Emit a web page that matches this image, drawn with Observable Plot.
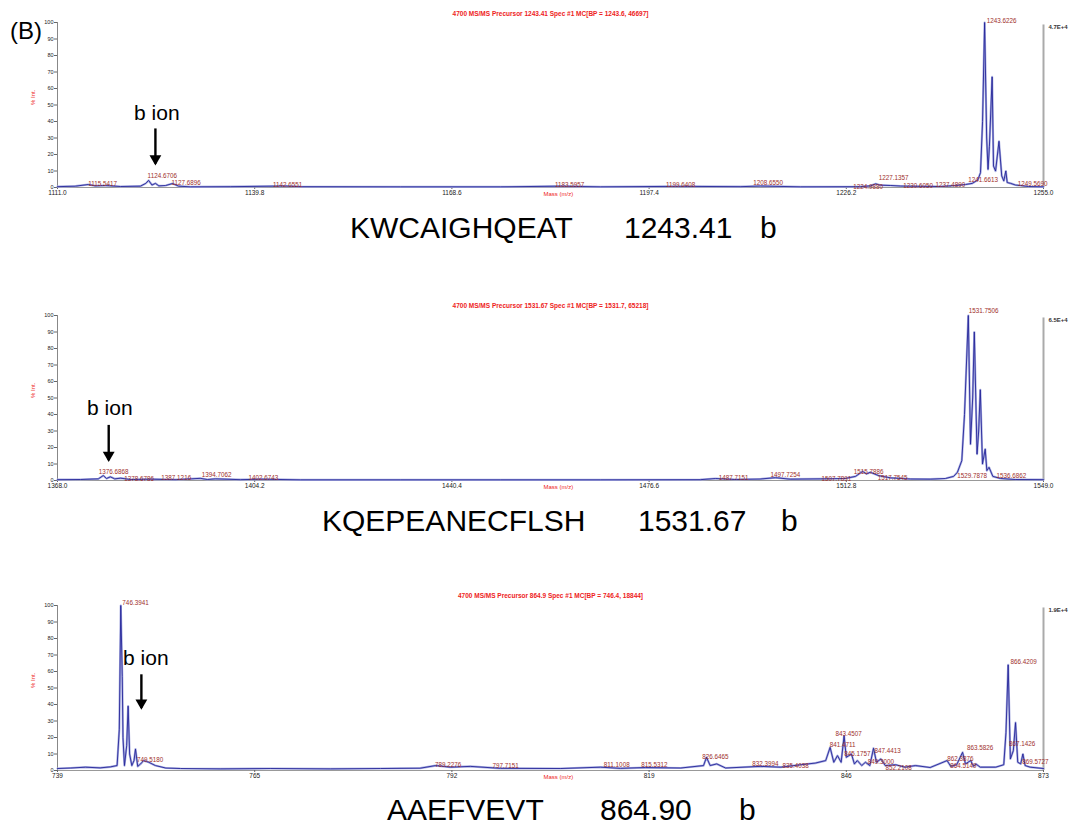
<!DOCTYPE html>
<html>
<head>
<meta charset="utf-8">
<script src="https://cdn.jsdelivr.net/npm/d3@7"></script>
<script src="https://cdn.jsdelivr.net/npm/@observablehq/plot@0.6"></script>
<style>
  html, body { margin: 0; padding: 0; background: #fff; }
  #page { position: relative; width: 1083px; height: 825px; overflow: hidden; font-family: "Liberation Sans", Arial, sans-serif; }
  .panel { position: absolute; left: 0; }
  .cap { position: absolute; font-size: 30px; line-height: 30px; color: #000; white-space: pre; }
  #tag { position: absolute; left: 10px; top: 19px; font-size: 24px; line-height: 24px; }
</style>
</head>
<body>
<div id="page">
  <div id="tag">(B)</div>
</div>
<script>
// ---------- Panel 1 : KWCAIGHQEAT ----------
const title1 = "4700 MS/MS Precursor 1243.41 Spec #1 MC[BP = 1243.6, 46697]";
const right1 = "4.7E+4";
const xTicks1 = [1111.0, 1139.8, 1168.6, 1197.4, 1226.2, 1255.0];
const xTickText1 = ["1111.0", "1139.8", "1168.6", "1197.4", "1226.2", "1255.0"];
const spec1 = [
  [1111.0,0.5],[1113.6,0.8],[1115.5,1.8],[1116.5,1.0],[1118.0,1.2],[1120.2,0.6],[1123.1,0.8],
  [1123.9,2.5],[1124.3,4.3],[1124.8,1.5],[1125.3,2.5],[1125.8,1.0],[1126.8,1.2],[1127.8,2.4],
  [1128.7,0.8],[1130.4,0.4],[1136.3,0.5],[1144.3,0.9],[1146.5,0.5],[1161.1,0.4],[1175.7,0.4],
  [1184.5,0.8],[1190.3,0.4],[1202.0,0.7],[1210.8,0.5],[1213.7,0.9],[1219.5,0.4],[1228.3,0.5],
  [1229.7,1.0],[1230.5,2.2],[1231.2,1.4],[1232.7,1.2],[1234.1,0.9],[1237.0,0.7],[1240.0,0.6],
  [1242.1,1.2],[1243.6,1.8],[1244.6,2.5],[1245.4,4.5],[1245.8,9],[1246.1,40],[1246.4,100],
  [1246.7,30],[1246.9,11],[1247.1,25],[1247.5,67],[1247.7,13],[1248.0,10],[1248.5,28],
  [1248.9,7],[1249.2,4],[1249.5,10],[1249.7,3],[1250.2,2.5],[1250.9,1.5],[1251.6,1.2],
  [1252.8,0.6],[1255.0,0.4]
];
const peaks1 = [
  ["1115.5417",1117.6,2.4],["1124.6706",1126.3,6.7],["1127.6896",1129.8,3.0],["1142.6551",1144.6,1.8],
  ["1183.5957",1185.8,1.8],["1199.6408",1202.0,1.8],["1208.6550",1214.8,3.0],["1224.9880",1229.4,0.6],
  ["1227.1357",1233.1,5.5],["1230.6050",1236.7,1.2],["1237.4890",1241.4,1.8],["1241.6613",1246.2,4.8],
  ["1249.5690",1253.4,2.4],["1243.6226",1248.9,101.2]
];
const arrow1 = [[1125.3, 35.8, 14.5]];
const bion1 = [[1125.5, 44.8]];
const caption1 = ["KWCAIGHQEAT", "1243.41", "b"];

// ---------- Panel 2 : KQEPEANECFLSH ----------
const title2 = "4700 MS/MS Precursor 1531.67 Spec #1 MC[BP = 1531.7, 65218]";
const right2 = "6.5E+4";
const xTicks2 = [1368.0, 1404.2, 1440.4, 1476.6, 1512.8, 1549.0];
const xTickText2 = ["1368.0", "1404.2", "1440.4", "1476.6", "1512.8", "1549.0"];
const spec2 = [
  [1368.0,0.5],[1372.2,0.6],[1375.5,1.0],[1376.4,3.0],[1377.0,1.2],[1377.7,2.2],[1378.5,1.0],
  [1379.6,1.4],[1381.4,0.6],[1385.1,0.8],[1389.7,0.5],[1394.2,1.3],[1395.5,0.6],[1397.0,1.0],
  [1401.6,0.5],[1405.3,0.8],[1412.6,0.4],[1431.0,0.4],[1449.3,0.4],[1467.7,0.4],[1486.0,0.5],
  [1488.8,1.2],[1492.4,0.6],[1497.0,0.9],[1499.8,1.7],[1502.5,0.8],[1508.1,1.0],[1512.6,1.2],
  [1514.5,2.5],[1515.8,5.5],[1516.5,4.0],[1517.2,5.0],[1518.7,3.0],[1520.9,1.6],[1524.6,0.9],
  [1528.2,0.8],[1531.0,1.2],[1532.5,2.5],[1533.2,5],[1534.0,12],[1534.5,40],[1535.2,100],
  [1535.6,22],[1536.0,50],[1536.3,90],[1536.8,16],[1537.1,30],[1537.4,55],[1537.8,10],
  [1538.3,19],[1538.6,6],[1539.0,8],[1539.7,2.5],[1541.1,1.2],[1543.8,0.6],[1549.0,0.5]
];
const peaks2 = [
  ["1376.6868",1378.3,5.2],["1378.6786",1383.0,0.9],["1387.1216",1389.8,1.8],["1394.7062",1397.2,3.1],
  ["1402.6743",1405.8,1.8],["1487.7151",1492.1,1.8],["1497.7254",1501.6,3.1],["1507.7891",1511.0,1.2],
  ["1515.7886",1516.9,4.9],["1517.7545",1521.3,1.8],["1529.7878",1535.9,2.5],["1536.6862",1543.1,2.5],
  ["1531.7506",1538.0,102.5]
];
const arrow2 = [[1377.4, 33.7, 12.3]];
const bion2 = [[1377.6, 43.6]];
const caption2 = ["KQEPEANECFLSH", "1531.67", "b"];

// ---------- Panel 3 : AAEFVEVT ----------
const title3 = "4700 MS/MS Precursor 864.9 Spec #1 MC[BP = 746.4, 18844]";
const right3 = "1.9E+4";
const xTicks3 = [739, 765.8, 792.6, 819.4, 846.2, 873];
const xTickText3 = ["739", "765", "792", "819", "846", "873"];
const spec3 = [
  [739.0,1.2],[740.8,1.5],[742.8,2.0],[744.8,1.6],[746.2,2.2],[747.1,3],[747.4,25],[747.6,100],
  [747.8,57],[747.9,20],[748.1,3],[748.4,15],[748.6,39],[748.8,10],[749.1,3],[749.4,6],[749.6,13],
  [749.9,2.5],[750.3,4],[750.7,6],[751.4,5],[752.3,3],[753.7,1.5],[755.7,1.2],[761.2,1.0],
  [767.9,1.2],[776.1,1.0],[782.9,1.2],[788.3,1.4],[790.4,3.0],[792.4,2.0],[795.1,2.5],[799.2,1.3],
  [807.4,1.2],[812.8,2.0],[815.5,1.3],[818.9,1.8],[823.7,1.5],[826.8,3],[827.2,8],[827.7,3],
  [828.6,4],[829.8,1.5],[834.5,2.5],[837.3,2.0],[840.0,3.5],[842.0,4.5],[843.4,6],[844.0,14],
  [844.5,5],[845.0,9],[845.5,5],[845.9,21],[846.2,8],[846.9,10],[847.3,4],[847.7,6],[848.3,3],
  [848.8,5],[849.4,3],[849.9,13.5],[850.3,5],[850.9,7],[851.5,3],[852.9,3.5],[854.2,2.0],
  [855.6,3],[857.6,1.8],[859.9,6],[860.4,2.5],[861.2,3.5],[862.0,11],[862.4,4],[863.1,6],
  [863.5,2.5],[863.8,4],[864.4,2.0],[866.5,2.0],[867.6,3.5],[867.9,23],[868.2,64],[868.5,7],
  [868.9,12],[869.2,29],[869.5,5],[869.9,4],[870.2,10],[870.5,3],[871.2,2],[873.0,1.2]
];
const peaks3 = [
  ["746.3941",749.6,101.8],["749.5180",751.6,6.1],["789.2276",792.1,3.1],["797.7151",799.9,2.5],
  ["811.1008",815.0,3.1],["815.5312",820.1,3.1],["826.6465",828.4,8],["832.3994",835.2,3.7],
  ["835.4038",839.3,2.5],["841.4711",845.7,15.3],["843.4507",846.5,22.1],["845.1757",847.7,9.8],
  ["847.4413",851.8,11.7],["849.3000",850.9,4.9],["852.2108",853.3,1.8],["862.3876",861.7,6.7],
  ["864.5149",862.1,2.5],["863.5826",864.4,13.5],["866.4209",870.3,65.6],["867.1426",870.1,16],
  ["869.5727",871.9,4.9]
];
const arrow3 = [[750.4, 58.3, 38.0]];
const bion3 = [[751.0, 68.0]];
const caption3 = ["AAEFVEVT", "864.90", "b"];

const yTicks = [0, 10, 20, 30, 40, 50, 60, 70, 80, 90, 100];
const yLabel = "% Int.";
const xLabel = "Mass (m/z)";
const bionText = "b ion";

const FONT = "'Liberation Sans', Arial, sans-serif";

function panel(cfg) {
  const spec = cfg.spec.map(([mz, pct]) => ({mz, pct}));
  const peaks = cfg.peaks.map(([t, mz, pct]) => ({t, mz, pct}));
  const arrows = cfg.arrow.map(([mz, y1, y2]) => ({mz, y1, y2}));
  const bion = cfg.bion.map(([mz, pct]) => ({mz, pct}));
  const tickMap = new Map(cfg.xTicks.map((v, i) => [v, cfg.xTickText[i]]));
  const dom = [cfg.xTicks[0], cfg.xTicks[cfg.xTicks.length - 1]];
  return Plot.plot({
    width: 1083,
    height: 200,
    marginLeft: 57,
    marginRight: 40,
    marginTop: cfg.mt,
    marginBottom: 200 - cfg.mt - 165,
    x: {domain: dom},
    y: {domain: [0, 100]},
    style: {fontFamily: FONT, background: "transparent", overflow: "visible", color: "#222"},
    marks: [
      Plot.ruleX([dom[0]], {stroke: "#888", strokeWidth: 1}),
      Plot.ruleY([0], {stroke: "#999", strokeWidth: 1}),
      Plot.axisY({ticks: yTicks, tickSize: 3, tickPadding: 1, fontSize: 5.5, label: null, stroke: "#666"}),
      Plot.axisX({ticks: cfg.xTicks, tickFormat: d => tickMap.get(d), tickSize: 2, tickPadding: 1, fontSize: 6.5, label: null, stroke: "#666"}),
      Plot.ruleX([dom[1]], {y1: 0, y2: 98.5, stroke: "#aaa", strokeWidth: 2}),
      Plot.line(spec, {x: "mz", y: "pct", stroke: "#a9aee0", strokeWidth: 2.2}),
      Plot.line(spec, {x: "mz", y: "pct", stroke: "#26269a", strokeWidth: 0.9}),
      Plot.text(peaks, {x: "mz", y: "pct", text: "t", fill: "#a0302c", fontSize: 6.3}),
      Plot.text([cfg.title], {frameAnchor: "top", dy: -cfg.titleDy, text: d => d, fill: "#ee2222", fontSize: 6.5, fontWeight: "bold"}),
      Plot.text([cfg.right], {frameAnchor: "top-right", dx: 5, dy: 2, textAnchor: "start", text: d => d, fill: "#333", fontSize: 6, fontWeight: "bold"}),
      Plot.text([yLabel], {frameAnchor: "left", dx: -24, rotate: -90, text: d => d, fill: "#ee2222", fontSize: 6}),
      Plot.text([xLabel], {frameAnchor: "bottom-left", dx: 486, dy: 8, textAnchor: "start", text: d => d, fill: "#ee2222", fontSize: 6}),
      Plot.link(arrows, {x1: "mz", x2: "mz", y1: "y1", y2: "y2", stroke: "#000", strokeWidth: 2.4}),
      Plot.dot(arrows, {x: "mz", y: "y2", symbol: "triangle", rotate: 180, r: 4.4, fill: "#000", stroke: "none", dy: -5}),
      Plot.text(bion, {x: "mz", y: "pct", text: () => bionText, fontSize: 21, fill: "#000", fontFamily: FONT})
    ]
  });
}

const page = document.getElementById("page");
const cfgs = [
  {top: 0, mt: 22, titleDy: 11, spec: spec1, peaks: peaks1, arrow: arrow1, bion: bion1, xTicks: xTicks1, xTickText: xTickText1, title: title1, right: right1,
   caption: caption1, capTop: 213, capLeft: [350, 624, 760]},
  {top: 290, mt: 25, titleDy: 12, spec: spec2, peaks: peaks2, arrow: arrow2, bion: bion2, xTicks: xTicks2, xTickText: xTickText2, title: title2, right: right2,
   caption: caption2, capTop: 506, capLeft: [322, 638, 781]},
  {top: 580, mt: 25, titleDy: 12, spec: spec3, peaks: peaks3, arrow: arrow3, bion: bion3, xTicks: xTicks3, xTickText: xTickText3, title: title3, right: right3,
   caption: caption3, capTop: 795, capLeft: [387, 600, 739]}
];
for (const c of cfgs) {
  const wrap = document.createElement("div");
  wrap.className = "panel";
  wrap.style.top = c.top + "px";
  wrap.appendChild(panel(c));
  page.appendChild(wrap);
  c.caption.forEach((t, i) => {
    const s = document.createElement("div");
    s.className = "cap";
    s.style.top = c.capTop + "px";
    s.style.left = c.capLeft[i] + "px";
    s.textContent = t;
    page.appendChild(s);
  });
}
</script>
</body>
</html>
